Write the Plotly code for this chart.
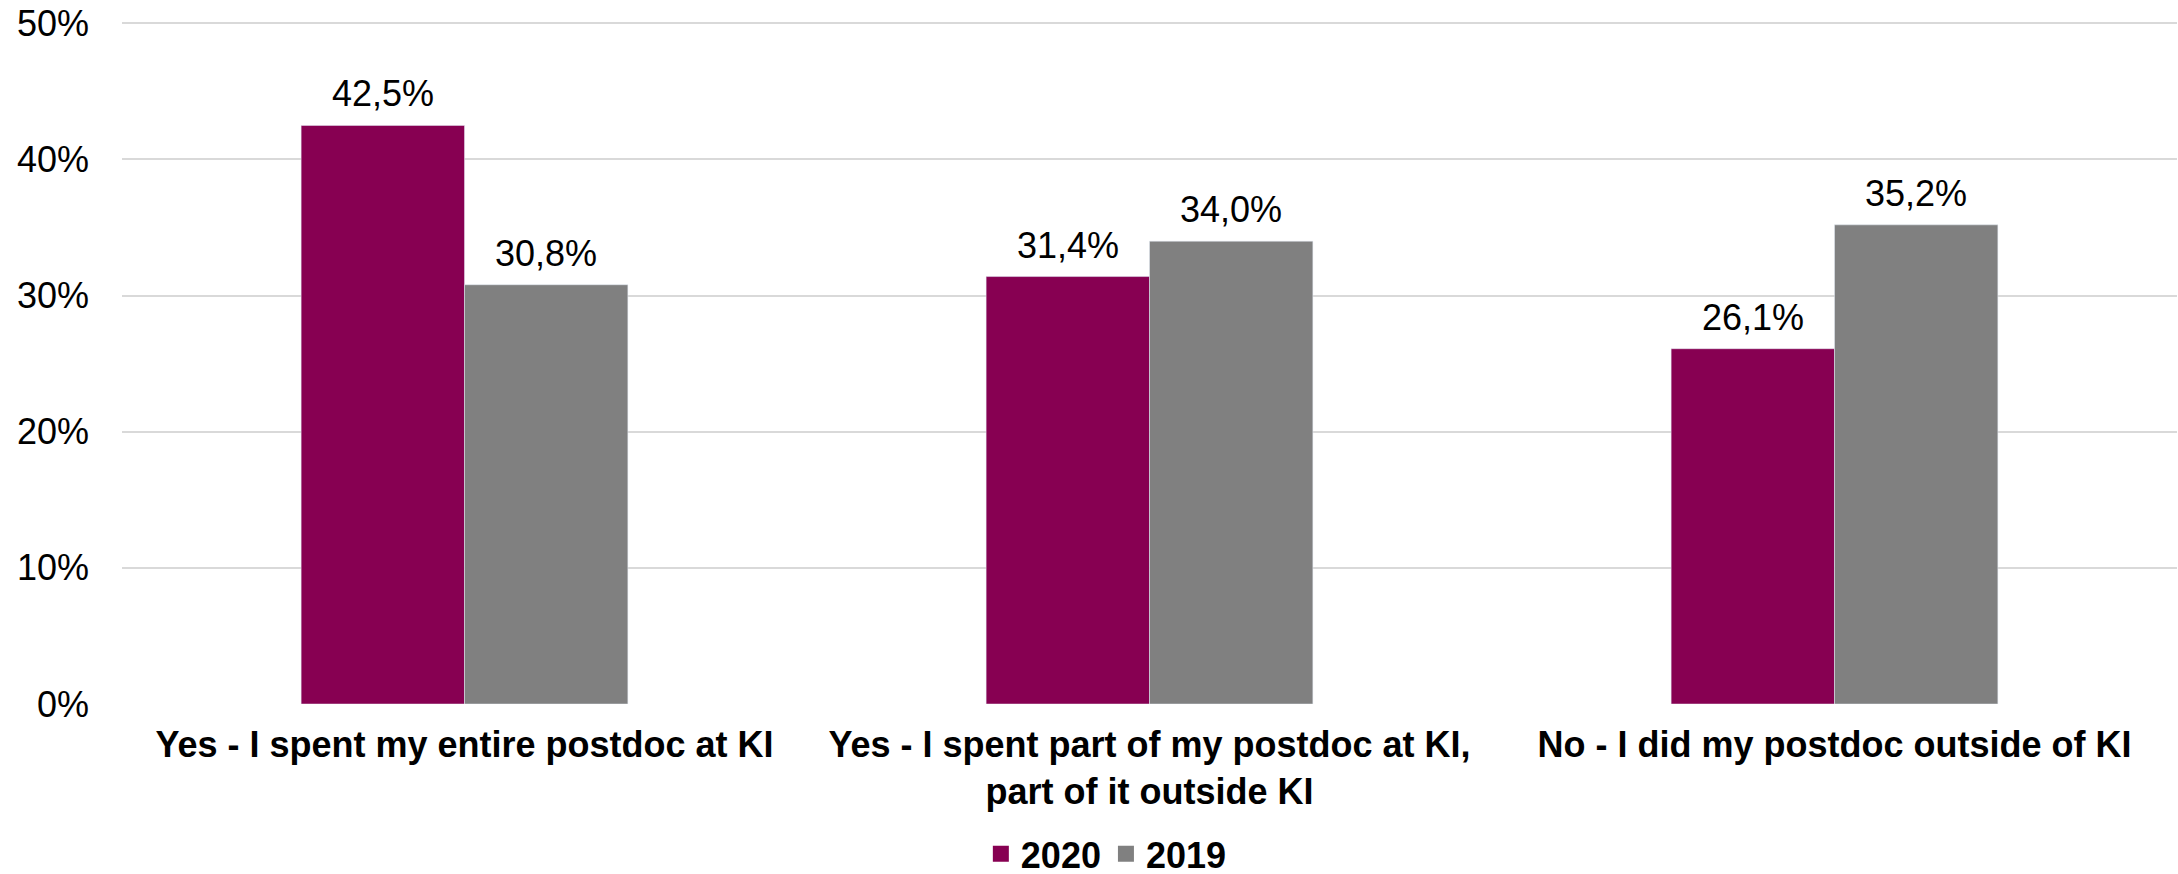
import plotly.graph_objects as go

# survey answers (share of respondents, %)
categories = [
    "Yes - I spent my entire postdoc at KI",
    "Yes - I spent part of my postdoc at KI,<br>part of it outside KI",
    "No - I did my postdoc outside of KI",
]
values_2020 = [42.5, 31.4, 26.1]
values_2019 = [30.8, 34.0, 35.2]
series_names = ["2020", "2019"]
y_ticks = [0, 10, 20, 30, 40, 50]

colors = ["#870052", "#808080"]
font_family = "Liberation Sans, Arial, sans-serif"

W, H = 2178, 874
margin = dict(l=122, r=1, t=22, b=170)
bargap = 0.523


def pct_label(v):
    # Swedish-style decimal comma
    return f"{v:.1f}".replace(".", ",") + "%"


fig = go.Figure()

for name, vals, col in zip(series_names, [values_2020, values_2019], colors):
    fig.add_trace(go.Bar(
        x=categories,
        y=vals,
        name=name,
        marker=dict(color=col),
        showlegend=False,
    ))

# legend proxies so the squares come out bigger than the bar default
for name, col in zip(series_names, colors):
    fig.add_trace(go.Scatter(
        x=[None], y=[None], mode="markers", name=name,
        marker=dict(symbol="square", size=19, color=col, line=dict(width=0)),
    ))

# value labels: annotations so they can sit a little higher above the bars
cat_px = (W - margin["l"] - margin["r"]) / len(categories)
bar_px = cat_px * (1 - bargap) / len(series_names)
for i, vals in enumerate([values_2020, values_2019]):
    shift = (i - (len(series_names) - 1) / 2) * bar_px
    for cat, v in zip(categories, vals):
        fig.add_annotation(
            x=cat, y=v, text=pct_label(v),
            xshift=shift, yshift=9,
            yanchor="bottom", showarrow=False,
            font=dict(size=36, color="black", family=font_family),
        )

fig.update_layout(
    width=W,
    height=H,
    margin=margin,
    paper_bgcolor="white",
    plot_bgcolor="white",
    barmode="group",
    bargap=bargap,
    bargroupgap=0,
    font=dict(family=font_family, color="black", size=36),
    legend=dict(
        orientation="h",
        x=0.479, xanchor="center",
        yref="container", y=0.023, yanchor="middle",
        font=dict(size=36, family=font_family, weight="bold"),
        itemwidth=30,
        tracegroupgap=0,
    ),
    xaxis=dict(
        type="category",
        showgrid=False,
        showline=False,
        ticks="",
        ticklabelstandoff=16,
        tickfont=dict(size=36, weight="bold"),
    ),
    yaxis=dict(
        range=[0, 50.1],
        tickvals=y_ticks,
        ticktext=[f"{v}%" for v in y_ticks],
        showgrid=True,
        gridcolor="#d9d9d9",
        gridwidth=2,
        zeroline=False,
        showline=False,
        ticks="",
        ticklabelstandoff=32,
        ticklabeloverflow="allow",
        tickfont=dict(size=36),
    ),
)

# drop the default 8px body margin so the figure fills the window exactly
fig.write_html(
    "out.html",
    config={"displayModeBar": False},
    post_script="document.body.style.margin='0';",
)
